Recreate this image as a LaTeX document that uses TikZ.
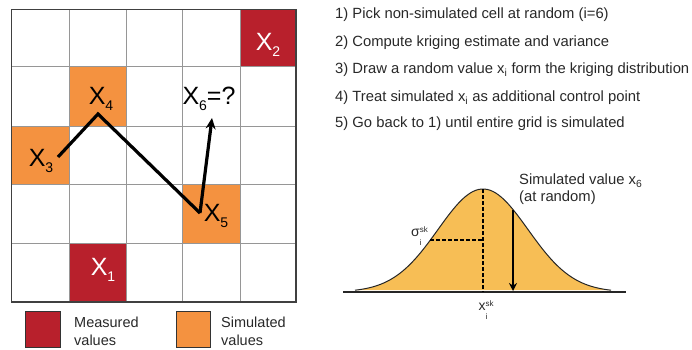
\documentclass[tikz,border=0pt]{standalone}
\usepackage{fontspec}
\setmainfont{Liberation Sans}
\usepackage{tikz}
\usetikzlibrary{arrows.meta,positioning}
\definecolor{sg@red}{RGB}{184,32,44}
\definecolor{sg@orange}{RGB}{244,146,64}
\definecolor{sg@bell}{RGB}{247,190,85}
\definecolor{sg@grid}{RGB}{150,150,150}
\definecolor{sg@text}{RGB}{40,40,40}
\newcommand{\lowidx}[1]{\raisebox{-0.45ex}{\fontsize{14}{14}\selectfont #1}}
\newcommand{\smidx}[1]{\textsubscript{#1}}
\newcommand{\skidx}{\raisebox{-1.2ex}{\fontsize{8}{8}\selectfont\shortstack[l]{sk\\[4pt]i}}}

\begin{document}
\begin{tikzpicture}[x=1pt,y=-1pt,
  measured/.style={fill=sg@red},
  simulated/.style={fill=sg@orange},
  pt/.style={inner sep=0pt,font=\fontsize{25}{25}\selectfont,text=black},
  ptw/.style={pt,text=white},
  stepline/.style={anchor=west,inner sep=0pt,font=\fontsize{14.8}{16}\selectfont,text=sg@text},
  legtext/.style={anchor=west,align=left,inner sep=0pt,font=\fontsize{14.5}{18}\selectfont,text=sg@text},
  path/.style={line width=3.2pt,line join=miter},
  pick/.style={line width=3.2pt,-{Stealth[length=11pt,width=10pt]}},
  guide/.style={dashed,line width=1.2pt,dash pattern=on 3.5pt off 2.5pt},
  every node/.style={font=\small}
]
\useasboundingbox (0,0) rectangle (692,350);

% grid of cells
\fill[measured] (240,9.3) rectangle (296,66.7);
\fill[simulated] (69,66.7) rectangle (126,126);
\fill[simulated] (11.7,126) rectangle (69,184);
\fill[simulated] (182.7,184) rectangle (240,243);
\fill[measured] (69,243) rectangle (126,302);
\foreach \gx in {69,126,182.7,240}
  \draw[sg@grid,line width=0.8pt] (\gx,9.3) -- (\gx,302);
\foreach \gy in {66.7,126,184,243}
  \draw[sg@grid,line width=0.8pt] (11.7,\gy) -- (296,\gy);
\draw[black!75,line width=1.1pt] (11.7,9.3) rectangle (296,302);

% points
\node[ptw] (x2) at (268,45) {X\lowidx{2}};
\node[pt] (x4) at (101,99) {X\lowidx{4}};
\node[pt] (x3) at (41,161) {X\lowidx{3}};
\node[pt] (x5) at (216,216) {X\lowidx{5}};
\node[ptw] (x1) at (103,270) {X\lowidx{1}};
\node[pt] (x6) at (209,99) {X\lowidx{6}=?};

\coordinate (p3) at (58,157);
\coordinate (p4) at (98,114);
\coordinate (p5) at (200,213);
\coordinate (p6) at (212,118);
\draw[path] (p3) -- (p4) -- (p5);
\draw[pick] (p5) -- (p6);

% legend
\draw[black!80,measured,line width=0.8pt] (25,311) rectangle (60,347);
\node[legtext] (lmeas) at (74,331) {Measured\\values};
\draw[black!80,simulated,line width=0.8pt] (176,311) rectangle (210,347);
\node[legtext] (lsim) at (221,331) {Simulated\\values};

% algorithm steps
\node[stepline] (s1) at (335,15) {1) Pick non-simulated cell at random (i=6)};
\node[stepline] (s2) at (335,43) {2) Compute kriging estimate and variance};
\node[stepline] (s3) at (335,70) {3) Draw a random value x\smidx{i} form the kriging distribution};
\node[stepline] (s4) at (335,98) {4) Treat simulated x\smidx{i} as additional control point};
\node[stepline] (s5) at (335,124) {5) Go back to 1) until entire grid is simulated};

% kriging distribution
\fill[sg@bell] plot[domain=355:611,samples=90] (\x,{292-103*exp(-((\x-483)/45)^2/2)}) -- cycle;
\draw[black!85,line width=1pt] plot[domain=355:611,samples=90] (\x,{292-103*exp(-((\x-483)/45)^2/2)});
\draw[black!85,line width=1.1pt] (343,292) -- (626,292);

\coordinate (peak) at (483,189);
\coordinate (mean) at (483,292);
\coordinate (half) at (430,240);
\coordinate (hmid) at (483,240);
\coordinate (draw) at (513,{292-103*exp(-((513-483)/45)^2/2)});
\coordinate (drawb) at (513,291);
\draw[guide] (peak) -- (mean);
\draw[guide] (half) -- (hmid);
\draw[line width=1.8pt,-{Stealth[length=8pt,width=8pt]}] (draw) -- (drawb);

\node[anchor=east,inner sep=0pt,font=\fontsize{14}{14}\selectfont,text=sg@text] (sig) at (428,236) {σ\skidx};
\node[inner sep=0pt,font=\fontsize{14}{14}\selectfont,text=sg@text] (xsk) at (486,310) {x\skidx};
\node[legtext,anchor=north west,font=\fontsize{14.8}{17}\selectfont] (simval) at (519,174) {Simulated value x\smidx{6}\\(at random)};
\end{tikzpicture}
\end{document}
